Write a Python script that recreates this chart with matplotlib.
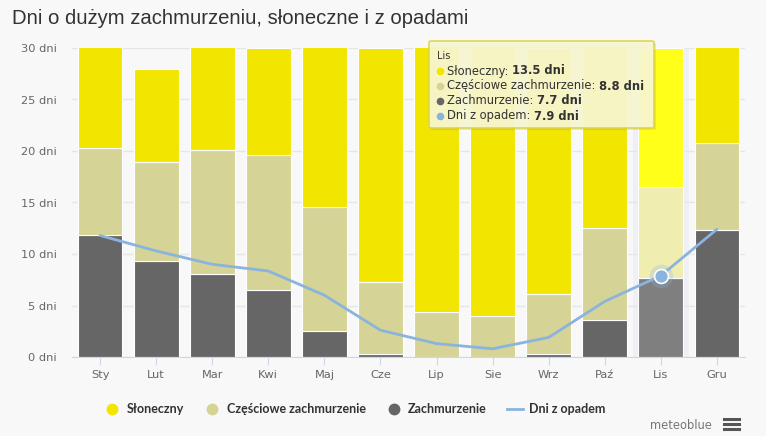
import matplotlib
matplotlib.use("Agg")
import matplotlib.pyplot as plt
from matplotlib.patches import FancyBboxPatch, Rectangle
from matplotlib.lines import Line2D
import numpy as np

months = ['Sty', 'Lut', 'Mar', 'Kwi', 'Maj', 'Cze', 'Lip', 'Sie', 'Wrz', 'Paź', 'Lis', 'Gru']
cloudy = [11.8, 9.3, 8.1, 6.5, 2.5, 0.3, 0.0, 0.0, 0.3, 3.6, 7.7, 12.3]
partly = [8.5, 9.6, 12.0, 13.1, 12.1, 7.0, 4.35, 3.95, 5.8, 8.9, 8.8, 8.5]
sunny = [10.7, 9.1, 10.8, 10.4, 16.4, 22.7, 26.6, 27.1, 23.9, 18.5, 13.5, 10.2]
precip = [11.8, 10.3, 9.0, 8.35, 6.0, 2.6, 1.3, 0.8, 1.9, 5.4, 7.9, 12.4]
y_ticks = [0, 5, 10, 15, 20, 25, 30]
hover = 10  # Lis is highlighted

W, H = 766, 436
BG = '#f8f8f8'
C_SUN, C_PART, C_CLOUD = '#f2e600', '#d6d396', '#666666'
C_SUN_H, C_PART_H, C_CLOUD_H = '#ffff1a', '#efedb0', '#7f7f7f'
C_RAIN = '#8ab4de'

plt.rcParams['font.family'] = ['DejaVu Sans']

fig = plt.figure(figsize=(W / 100, H / 100), dpi=100, facecolor=BG)
ax = fig.add_axes([72 / W, 1 - 357 / H, 673 / W, 309 / H], facecolor=BG)


def fx(px):
    return px / W


def fy(py):
    return 1 - py / H


x = np.arange(len(months))
cl = np.array(cloudy)
pa = np.array(partly)
su = np.array(sunny)

ax.axvspan(hover - 0.5, hover + 0.5, color='#eef0f5', zorder=0, lw=0)

sun_c = [C_SUN_H if i == hover else C_SUN for i in x]
part_c = [C_PART_H if i == hover else C_PART for i in x]
cloud_c = [C_CLOUD_H if i == hover else C_CLOUD for i in x]
ax.bar(x, cl, width=0.8, color=cloud_c, edgecolor='white', linewidth=0.8, zorder=2)
ax.bar(x, pa, width=0.8, bottom=cl, color=part_c, edgecolor='white', linewidth=0.8, zorder=2)
ax.bar(x, su, width=0.8, bottom=cl + pa, color=sun_c, edgecolor='white', linewidth=0.8, zorder=2)

ax.plot(x, precip, color=C_RAIN, lw=2, zorder=3, solid_capstyle='round')
ax.plot(x[hover], precip[hover], 'o', ms=17, color=C_RAIN, alpha=0.25, mec='none', zorder=4)
ax.plot(x[hover], precip[hover], 'o', ms=10, color=C_RAIN, mec='white', mew=1.2, zorder=5)

ax.set_xlim(-0.5, len(months) - 0.5)
ax.set_ylim(0, 30)
ax.set_yticks(y_ticks)
ax.set_yticklabels([f'{v} dni' for v in y_ticks])
ax.set_xticks(x)
ax.set_xticklabels(months)
ax.grid(axis='y', color='#e6e6e6', lw=1, zorder=0)
ax.set_axisbelow(True)
for s in ['top', 'right', 'left']:
    ax.spines[s].set_visible(False)
ax.spines['bottom'].set_color('#ccd6eb')
ax.tick_params(axis='y', length=0, pad=11, labelsize=8.2, labelcolor='#666666')
ax.tick_params(axis='x', length=6, color='#ccd6eb', pad=3, labelsize=8.2, labelcolor='#666666')

fig.text(fx(12), fy(19), 'Dni o dużym zachmurzeniu, słoneczne i z opadami',
         fontsize=14.6, color='#333333', va='center', ha='left', family='Liberation Sans')

# legend
handles = [
    Line2D([], [], marker='o', ls='none', ms=7.5, color=C_SUN),
    Line2D([], [], marker='o', ls='none', ms=7.5, color=C_PART),
    Line2D([], [], marker='o', ls='none', ms=7.5, color=C_CLOUD),
    Line2D([], [], color=C_RAIN, lw=2),
]
labels = ['Słoneczny', 'Częściowe zachmurzenie', 'Zachmurzenie', 'Dni z opadem']
fig.legend(handles, labels, loc='center', bbox_to_anchor=(fx(355), fy(409)), ncol=4,
           frameon=False, handlelength=1.3, handletextpad=0.5, columnspacing=1.6,
           prop={'size': 9, 'weight': 'bold', 'family': 'Lato'}, labelcolor='#333333')

# tooltip
tip = FancyBboxPatch((fx(429), fy(128)), fx(654) - fx(429), fy(41) - fy(128),
                     boxstyle='round,pad=0,rounding_size=0.003', transform=fig.transFigure,
                     facecolor='#f8f7d2', edgecolor='#ddd446', lw=1.2, alpha=0.93, zorder=10)
shadow = Rectangle((fx(431), fy(130)), fx(654) - fx(429), fy(41) - fy(128),
                   transform=fig.transFigure, facecolor='#000000', alpha=0.08, zorder=9)
fig.patches.extend([shadow, tip])
fig.text(fx(437), fy(56), 'Lis', fontsize=7, color='#333333', va='center', zorder=11)

rows = [('Słoneczny: ', f'{sunny[hover]} dni', C_SUN),
        ('Częściowe zachmurzenie: ', f'{partly[hover]} dni', C_PART),
        ('Zachmurzenie: ', f'{cloudy[hover]} dni', C_CLOUD),
        ('Dni z opadem: ', f'{precip[hover]} dni', C_RAIN)]
renderer = fig.canvas.get_renderer()
for i, (lab, val, col) in enumerate(rows):
    yy = fy(71 + i * 15)
    fig.lines.append(Line2D([fx(440)], [yy], marker='o', ms=5.5, color=col, mec='none',
                            transform=fig.transFigure, zorder=11))
    t = fig.text(fx(447), yy, lab, fontsize=8.3, color='#333333', va='center', zorder=11)
    bb = t.get_window_extent(renderer)
    fig.text(bb.x1 / W, yy, val, fontsize=8.3, color='#333333', va='center',
             weight='bold', zorder=11)

# credit + menu icon
fig.text(fx(712), fy(425), 'meteoblue', fontsize=8.3, color='#777777', ha='right', va='center')
for yy in [419, 424, 429]:
    fig.lines.append(Line2D([fx(724), fx(739)], [fy(yy), fy(yy)], color='#555555', lw=2.2,
                            transform=fig.transFigure))

fig.savefig('out.png', dpi=100, facecolor=BG)
